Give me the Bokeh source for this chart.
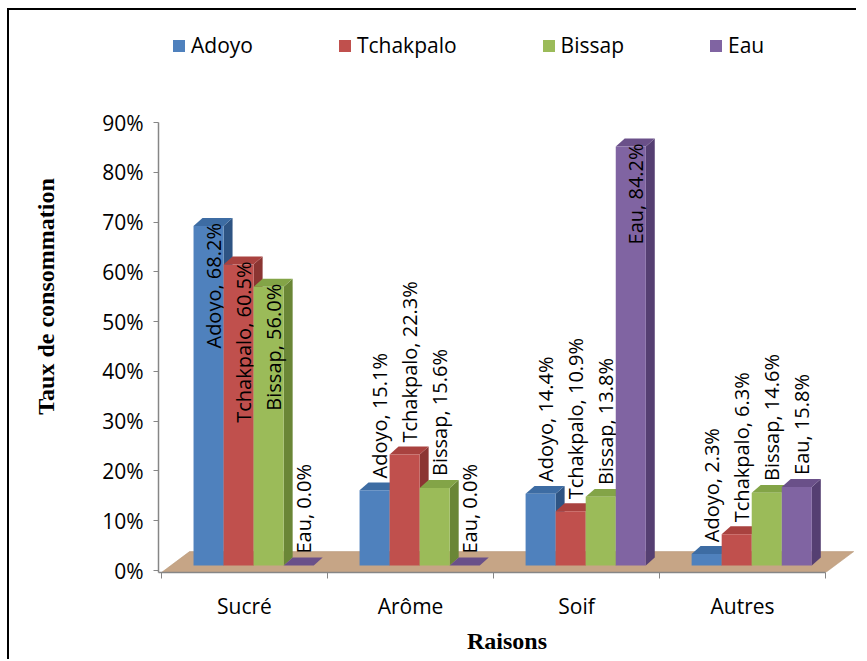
import math
from bokeh.plotting import figure
from bokeh.models import (FixedTicker, PrintfTickFormatter, Legend, LegendItem,
                          ColumnDataSource, Range1d)
from bokeh.embed import file_html
from bokeh.resources import INLINE
from bokeh.core.properties import value

# ---------------- data ----------------
categories = ["Sucré", "Arôme", "Soif", "Autres"]
series = ["Adoyo", "Tchakpalo", "Bissap", "Eau"]
adoyo = [68.2, 15.1, 14.4, 2.3]
tchakpalo = [60.5, 22.3, 10.9, 6.3]
bissap = [56.0, 15.6, 13.8, 14.6]
eau = [0.0, 0.0, 84.2, 15.8]
y_ticks = [0, 10, 20, 30, 40, 50, 60, 70, 80, 90]
values = [adoyo, tchakpalo, bissap, eau]

# ---------------- style ----------------
front_colors = ["#4F81BD", "#C0504D", "#9BBB59", "#8064A2"]
top_colors = ["#3D6CA3", "#A9423F", "#83A447", "#6A5089"]
side_colors = ["#2E5483", "#8B3532", "#6A8636", "#553F72"]
floor_color = "#C6A586"
axis_color = "#868686"
FONT = "Open Sans"

GROUP_OFF = 0.193   # start of bar group inside a category
BAR_W = 0.181       # bar width (category units)
DX = 0.054          # bar depth in x
DY = 1.6            # bar depth in y
BASE = 1.0          # bar base above axis (3D mid-depth)
FLOOR_FRONT = -0.4
FLOOR_BACK = 3.8
FLOOR_DX = 0.169
INSIDE_LIMIT = 50   # labels of taller bars are drawn inside the bar

n = len(categories)

p = figure(width=849, height=651, output_backend="svg", toolbar_location=None,
           x_range=Range1d(-0.018, 4.18), y_range=Range1d(FLOOR_FRONT, 110.5),
           min_border_left=149, min_border_right=3, min_border_top=10,
           min_border_bottom=89, background_fill_color="white",
           border_fill_color="white", outline_line_color=None)
p.styles = {"border-top": "2px solid #000", "border-left": "2px solid #000"}
p.margin = (8, 0, 0, 7)
p.xgrid.visible = False
p.ygrid.visible = False

# floor
p.patch([0, n, n + FLOOR_DX, FLOOR_DX],
        [FLOOR_FRONT, FLOOR_FRONT, FLOOR_BACK, FLOOR_BACK],
        fill_color=floor_color, line_color="#B89878", line_width=0.6)

front_renderers = []
for i, (name, vals) in enumerate(zip(series, values)):
    left = [j + GROUP_OFF + i * BAR_W for j in range(n)]
    right = [l + BAR_W for l in left]
    top = [BASE + v for v in vals]
    bottom = [BASE] * n
    # side faces
    side_xs = [[r, r + DX, r + DX, r] for r in right]
    side_ys = [[BASE, BASE + DY, t + DY, t] for t in top]
    p.patches(side_xs, side_ys, fill_color=side_colors[i], line_color=None)
    # top faces
    top_xs = [[l, r, r + DX, l + DX] for l, r in zip(left, right)]
    top_ys = [[t, t, t + DY, t + DY] for t in top]
    p.patches(top_xs, top_ys, fill_color=top_colors[i], line_color=None)
    # front faces
    fr = p.quad(left=left, right=right, top=top, bottom=bottom,
                fill_color=front_colors[i], line_color=None)
    front_renderers.append(fr)

    # data labels
    xc = [(l + r) / 2 + DX / 2 for l, r in zip(left, right)]
    labels = [f"{name}, {v:.1f}%" for v in vals]
    ins = [k for k, v in enumerate(vals) if v > INSIDE_LIMIT]
    out = [k for k, v in enumerate(vals) if v <= INSIDE_LIMIT]
    if ins:
        src = ColumnDataSource(dict(x=[xc[k] for k in ins],
                                    y=[top[k] + 0.6 for k in ins],
                                    t=[labels[k] for k in ins]))
        p.text(x="x", y="y", text="t", source=src, angle=math.pi / 2,
               text_align="right", text_baseline="middle",
               text_font=value(FONT), text_font_size="20px", text_color="black")
    if out:
        src = ColumnDataSource(dict(x=[xc[k] for k in out],
                                    y=[top[k] + 2.4 for k in out],
                                    t=[labels[k] for k in out]))
        p.text(x="x", y="y", text="t", source=src, angle=math.pi / 2,
               text_align="left", text_baseline="middle",
               text_font=value(FONT), text_font_size="20px", text_color="black")

# x axis: labels at category centres, ticks at category boundaries
xa = p.xaxis[0]
xa.ticker = FixedTicker(ticks=[j + 0.5 for j in range(n)],
                        minor_ticks=list(range(n + 1)))
xa.major_label_overrides = {j + 0.5: c for j, c in enumerate(categories)}
xa.bounds = (-0.018, n)
xa.major_tick_out = 0
xa.major_tick_in = 0
xa.minor_tick_out = 6
xa.minor_tick_in = 0
xa.minor_tick_line_color = axis_color
xa.axis_line_color = axis_color
xa.axis_line_width = 1.5
xa.major_label_text_font = FONT
xa.major_label_text_font_size = "21px"
xa.major_label_text_color = "black"
xa.major_label_standoff = 13
xa.axis_label = "Raisons"
xa.axis_label_text_font = "Liberation Serif"
xa.axis_label_text_font_style = "bold"
xa.axis_label_text_font_size = "24px"
xa.axis_label_text_color = "black"
xa.axis_label_standoff = 5

ya = p.yaxis[0]
ya.ticker = FixedTicker(ticks=y_ticks, minor_ticks=[])
ya.formatter = PrintfTickFormatter(format="%d%%")
ya.bounds = (FLOOR_FRONT, 90)
ya.major_tick_out = 5
ya.major_tick_in = 0
ya.minor_tick_out = 0
ya.minor_tick_in = 0
ya.major_tick_line_color = axis_color
ya.axis_line_color = axis_color
ya.axis_line_width = 1.5
ya.major_label_text_font = FONT
ya.major_label_text_font_size = "21px"
ya.major_label_text_color = "black"
ya.major_label_standoff = 10
ya.axis_label = "Taux de consommation"
ya.axis_label_text_font = "Liberation Serif"
ya.axis_label_text_font_style = "bold"
ya.axis_label_text_font_size = "24px"
ya.axis_label_text_color = "black"
ya.axis_label_standoff = 40

legend = Legend(items=[LegendItem(label=s, renderers=[r])
                       for s, r in zip(series, front_renderers)],
                orientation="horizontal", location=(13, 513),
                spacing=84, glyph_width=15, glyph_height=15, label_standoff=5,
                label_text_font=FONT, label_text_font_size="21px",
                label_text_color="black", border_line_color=None,
                background_fill_alpha=0, padding=0, margin=0)
p.add_layout(legend)

open("out.html", "w").write(file_html(p, INLINE))
